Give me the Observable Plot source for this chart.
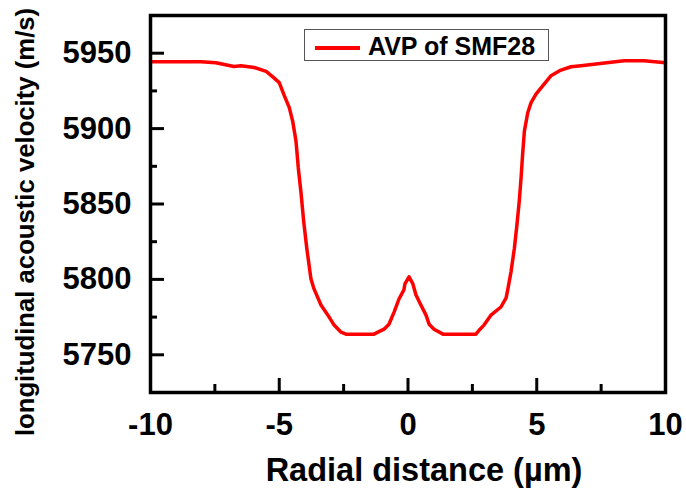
<!DOCTYPE html>
<html>
<head>
<meta charset="utf-8">
<script src="https://cdn.jsdelivr.net/npm/d3@7"></script>
<script src="https://cdn.jsdelivr.net/npm/@observablehq/plot@0.6"></script>
<style>
  body { margin: 0; background: #fff; }
  #wrap { position: relative; width: 686px; height: 491px; background: #fff; font-family: "Liberation Sans", Arial, sans-serif; }
  #legend { position: absolute; left: 304px; top: 29px; width: 243px; height: 30px; border: 1px solid #555; background: #fff; }
  #legend .swatch { position: absolute; left: 10px; top: 16px; width: 45px; height: 4px; background: #ff0000; }
  #legend .label { position: absolute; left: 63px; top: 1px; font-size: 25px; font-weight: bold; color: #000; line-height: 30px; white-space: nowrap; }
</style>
</head>
<body>
<div id="wrap"></div>
<script>
// ---- data ----
const radialDistance = [-10, -8.04, -7.46, -6.76, -6.49, -5.97, -5.51, -5.25, -5.0, -4.8, -4.61, -4.48, -4.35, -4.26, -4.16, -4.05, -3.93, -3.77, -3.65, -3.38, -3.11, -2.87, -2.6, -2.41, -1.32, -1.17, -0.93, -0.74, -0.54, -0.35, -0.16, -0.12, 0.04, 0.19, 0.31, 0.5, 0.7, 0.82, 1.01, 1.36, 2.64, 2.76, 2.95, 3.22, 3.61, 3.81, 3.88, 4.0, 4.13, 4.23, 4.32, 4.39, 4.45, 4.52, 4.65, 4.78, 4.97, 5.23, 5.55, 5.94, 6.33, 6.72, 7.38, 8.39, 9.17, 10];
const velocity = [5944.3, 5944.3, 5943.7, 5941.2, 5941.7, 5940.5, 5937.9, 5934.3, 5930.5, 5921.7, 5913.9, 5905, 5891.7, 5873.9, 5858.3, 5838.3, 5820.5, 5800.5, 5793.7, 5783, 5776.3, 5769.7, 5765, 5763.7, 5763.7, 5765, 5767, 5770.3, 5778.3, 5787, 5793, 5797, 5801.7, 5797, 5789.7, 5783, 5776.3, 5770.3, 5767, 5763.7, 5763.7, 5766.3, 5769.7, 5776.3, 5781.7, 5787.7, 5793.7, 5805, 5820.5, 5836.1, 5851.7, 5867.2, 5882.8, 5898.3, 5910.5, 5917.2, 5922.8, 5928.3, 5935, 5938.8, 5941, 5941.7, 5943, 5945, 5945, 5943.7];
const xMajorTicks = [-10, -5, 0, 5, 10];
const xMinorTicks = [-7.5, -2.5, 2.5, 7.5];
const yMajorTicks = [5750, 5800, 5850, 5900, 5950];
const yMinorTicks = [5775, 5825, 5875, 5925];
const xDomain = [-10, 10];
const yDomain = [5725, 5975];
const seriesName = "AVP of SMF28";
const xTitle = "Radial distance (µm)";
const yTitle = "longitudinal acoustic velocity (m/s)";

const data = radialDistance.map((x, i) => ({x, v: velocity[i]}));

const W = 686, H = 491;
const mT = 15, mB = 99, mL = 150, mR = 21;
const plotW = W - mL - mR, plotH = H - mT - mB;
const font = "Liberation Sans, Arial, sans-serif";

const chart = Plot.plot({
  width: W, height: H,
  marginTop: mT, marginBottom: mB, marginLeft: mL, marginRight: mR,
  style: {fontFamily: font, background: "#fff", color: "#000", overflow: "visible"},
  x: {domain: xDomain},
  y: {domain: yDomain},
  marks: [
    // inward ticks
    Plot.ruleX(xMajorTicks, {x: d => d, insetTop: plotH - 14, stroke: "#000", strokeWidth: 3}),
    Plot.ruleX(xMinorTicks, {x: d => d, insetTop: plotH - 8, stroke: "#000", strokeWidth: 3}),
    Plot.ruleY(yMajorTicks, {y: d => d, insetRight: plotW - 14, stroke: "#000", strokeWidth: 3}),
    Plot.ruleY(yMinorTicks, {y: d => d, insetRight: plotW - 7, stroke: "#000", strokeWidth: 3}),
    // tick labels
    Plot.axisX(xMajorTicks, {tickSize: 0, tickPadding: 20, fontSize: 31, fontWeight: "bold", tickFormat: d => String(d), label: null}),
    Plot.axisY(yMajorTicks, {tickSize: 0, tickPadding: 19, fontSize: 31, fontWeight: "bold", tickFormat: d => String(d), label: null}),
    // data line
    Plot.line(data, {x: "x", y: "v", stroke: "#ff0000", strokeWidth: 3.5, strokeLinejoin: "round"}),
    // frame
    Plot.frame({stroke: "#000", strokeWidth: 3.5}),
    // axis titles
    Plot.text([xTitle], {frameAnchor: "bottom", textAnchor: "middle", dx: 16, dy: 88, lineAnchor: "bottom", fontSize: 32.5, fontWeight: "bold", fill: "#000"}),
    Plot.text([yTitle], {frameAnchor: "left", textAnchor: "middle", rotate: -90, dx: -116.5, dy: 18, lineAnchor: "bottom", fontSize: 25.7, fontWeight: "bold", fill: "#000"})
  ]
});

const wrap = document.getElementById("wrap");
wrap.appendChild(chart);
const legend = document.createElement("div");
legend.id = "legend";
const sw = document.createElement("div"); sw.className = "swatch";
const lb = document.createElement("div"); lb.className = "label"; lb.textContent = seriesName;
legend.appendChild(sw); legend.appendChild(lb);
wrap.appendChild(legend);
</script>
</body>
</html>
